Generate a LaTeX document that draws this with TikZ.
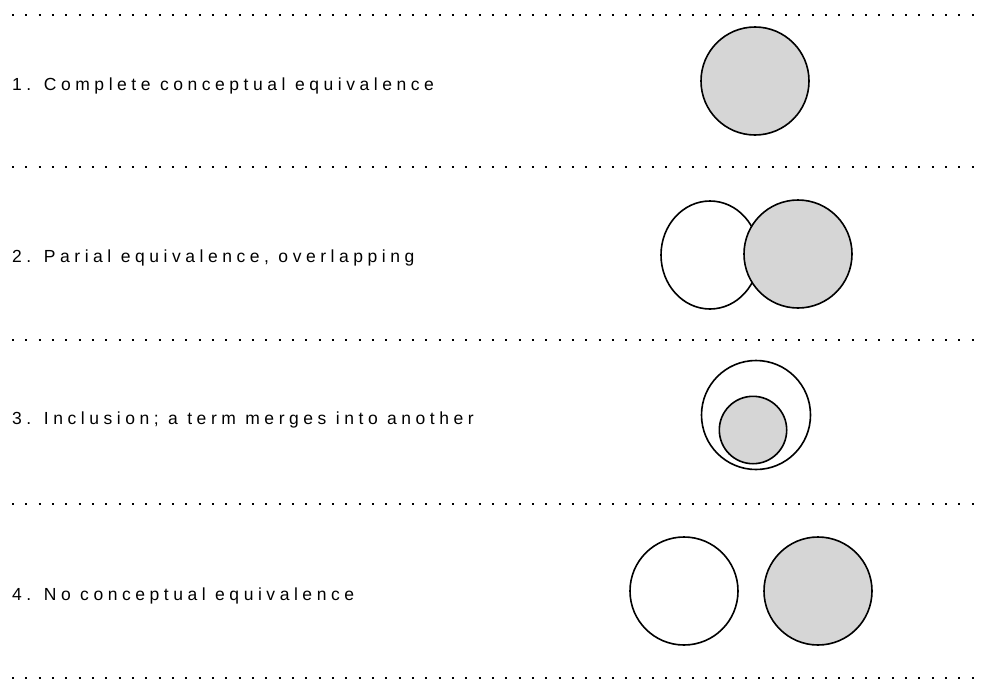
\documentclass[tikz,border=0pt]{standalone}
\usepackage{fontspec}
\setmainfont{Liberation Sans}
\tikzset{
  sep/.style={line width=2pt, dash pattern=on 2pt off 11.33pt},
  ring/.style={line width=1.6pt},
  shade/.style={ring, fill=black!16},
  txt/.style={anchor=base west, inner sep=0pt,
    font=\fontsize{17.5}{21}\selectfont\addfontfeatures{LetterSpace=26}}
}
\begin{document}
\begin{tikzpicture}[x=1pt,y=-1pt]
        \useasboundingbox (0,0) rectangle (984,680);

        % Draw dotted separators
        \foreach \y in {15,167,340,504,678}
          \draw [sep] (12,\y) -- (984,\y);

        % Draw captions
        \node[txt] (t1) at (12,90) {1. Complete conceptual equivalence};
        \node[txt] (t2) at (12,262) {2. Parial equivalence, overlapping};
        \node[txt] (t3) at (12,424) {3. Inclusion; a term merges into another};
        \node[txt] (t4) at (12,600) {4. No conceptual equivalence};

        % Draw circles
        \draw [shade] (755,81) circle (54);
        \draw [ring] (710,255) ellipse (49 and 54);
        \draw [shade] (798,254) circle (54);
        \draw [ring] (756,415) circle (54.5);
        \draw [shade] (753,430) circle (33.7);
        \draw [ring] (684,591) circle (54);
        \draw [shade] (818,591) circle (54);
      \end{tikzpicture}
\end{document}
